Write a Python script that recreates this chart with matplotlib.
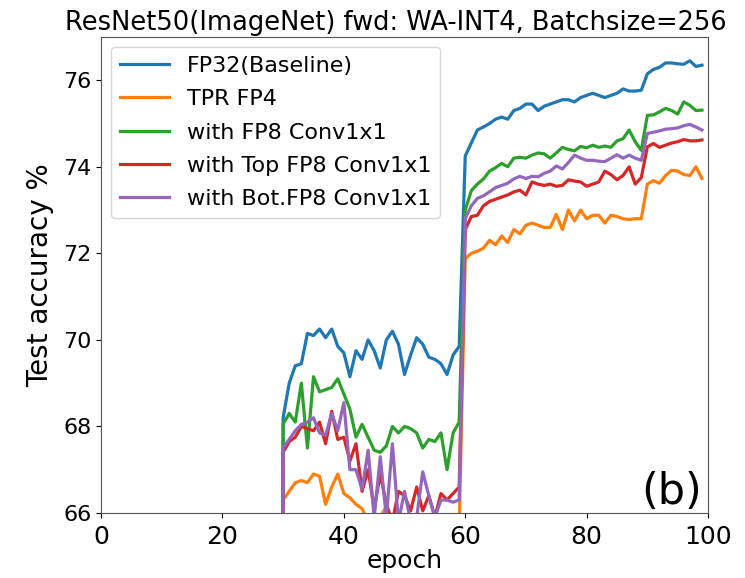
#!/usr/bin/env python3
"""ResNet50 (ImageNet) test accuracy vs. epoch for WA-INT4 forward
quantization variants, batch size 256. Writes out.png."""

import numpy as np
import matplotlib.pyplot as plt
from matplotlib import font_manager

# accuracy was not logged before epoch 30, the epoch-29 entry is plotted as 0
epochs = np.arange(29, 100)

fp32_baseline = [
    0.0,
    68.2, 69.0, 69.4, 69.45, 70.15, 70.1, 70.25, 70.05, 70.25, 69.85,
    69.7, 69.15, 69.75, 69.55, 70.0, 69.75, 69.35, 70.0, 70.2, 69.9,
    69.2, 69.65, 70.05, 69.9, 69.6, 69.55, 69.45, 69.2, 69.65, 69.85,
    74.25, 74.55, 74.85, 74.92, 75.0, 75.1, 75.15, 75.1, 75.3, 75.35,
    75.45, 75.45, 75.3, 75.4, 75.45, 75.5, 75.55, 75.55, 75.5, 75.6,
    75.65, 75.7, 75.65, 75.6, 75.65, 75.7, 75.8, 75.75, 75.75, 75.77,
    76.15, 76.25, 76.3, 76.4, 76.4, 76.38, 76.37, 76.45, 76.32, 76.35,
]

tpr_fp4 = [
    0.0,
    66.3, 66.5, 66.7, 66.75, 66.7, 66.9, 66.85, 66.2, 66.6, 66.9,
    66.45, 66.35, 66.2, 66.1, 65.8, 65.6, 65.9, 66.15, 65.8, 65.5,
    65.4, 65.5, 65.3, 65.5, 65.4, 65.6, 65.5, 65.4, 65.5, 65.6,
    71.88, 72.0, 72.05, 72.12, 72.3, 72.2, 72.4, 72.25, 72.55, 72.45,
    72.65, 72.7, 72.65, 72.6, 72.6, 72.9, 72.55, 73.0, 72.75, 73.0,
    72.8, 72.88, 72.88, 72.7, 72.88, 72.85, 72.8, 72.78, 72.8, 72.8,
    73.6, 73.68, 73.62, 73.8, 73.92, 73.9, 73.82, 73.8, 74.0, 73.73,
]

fp8_conv1x1 = [
    0.0,
    68.05, 68.3, 68.1, 69.0, 67.5, 69.15, 68.8, 68.85, 68.9, 69.1,
    68.75, 68.4, 67.75, 68.05, 67.75, 67.45, 67.4, 67.55, 68.0, 67.85,
    68.0, 67.95, 67.85, 67.5, 67.7, 67.65, 67.85, 67.0, 67.85, 68.1,
    73.0, 73.45, 73.6, 73.72, 73.9, 73.98, 74.08, 74.0, 74.2, 74.22,
    74.2, 74.27, 74.32, 74.3, 74.2, 74.32, 74.45, 74.4, 74.37, 74.47,
    74.44, 74.5, 74.45, 74.48, 74.45, 74.6, 74.65, 74.85, 74.58, 74.38,
    75.19, 75.2, 75.27, 75.35, 75.3, 75.22, 75.5, 75.42, 75.3, 75.31,
]

top_fp8_conv1x1 = [
    0.0,
    67.4, 67.65, 67.75, 68.0, 67.95, 67.9, 68.1, 67.6, 68.35, 67.7,
    67.75, 67.2, 67.6, 66.5, 67.0, 66.1, 66.9, 66.2, 65.8, 66.5,
    66.4, 66.05, 66.6, 66.05, 66.4, 65.9, 66.45, 66.3, 66.45, 66.6,
    72.55, 72.85, 72.88, 73.1, 73.2, 73.25, 73.3, 73.35, 73.42, 73.46,
    73.35, 73.65, 73.6, 73.57, 73.6, 73.55, 73.57, 73.7, 73.67, 73.65,
    73.55, 73.6, 73.65, 73.9, 73.82, 73.7, 73.8, 74.0, 73.6, 73.75,
    74.46, 74.54, 74.45, 74.5, 74.55, 74.58, 74.63, 74.6, 74.6, 74.62,
]

bot_fp8_conv1x1 = [
    0.0,
    67.5, 67.7, 67.9, 68.05, 68.1, 68.2, 67.85, 67.8, 68.3, 67.9,
    68.55, 67.0, 67.0, 66.55, 67.45, 65.9, 67.3, 65.9, 67.6, 65.8,
    66.5, 65.8, 65.9, 66.95, 66.4, 65.9, 66.3, 66.3, 66.25, 66.3,
    72.8, 73.1, 73.27, 73.33, 73.42, 73.52, 73.57, 73.62, 73.72, 73.78,
    73.73, 73.78, 73.77, 73.85, 73.9, 74.02, 73.95, 74.1, 74.27, 74.2,
    74.15, 74.15, 74.13, 74.12, 74.2, 74.28, 74.2, 74.27, 74.2, 74.15,
    74.77, 74.8, 74.83, 74.87, 74.88, 74.9, 74.95, 74.98, 74.92, 74.85,
]

series = [
    ("FP32(Baseline)", fp32_baseline, "tab:blue"),
    ("TPR FP4", tpr_fp4, "tab:orange"),
    ("with FP8 Conv1x1", fp8_conv1x1, "tab:green"),
    ("with Top FP8 Conv1x1", top_fp8_conv1x1, "tab:red"),
    ("with Bot.FP8 Conv1x1", bot_fp8_conv1x1, "tab:purple"),
]


def narrow_family():
    # the panel letter in the paper is set in a condensed face
    names = {f.name for f in font_manager.fontManager.ttflist}
    for name in ("DejaVu Sans Condensed", "Liberation Sans Narrow"):
        if name in names:
            return name
    return "DejaVu Sans"


def main():
    fig = plt.figure(figsize=(7.45, 5.78), dpi=100)
    ax = fig.add_axes([0.1356, 0.1125, 0.8148, 0.8235])

    for label, values, color in series:
        ax.plot(epochs, values, color=color, linewidth=2.3, label=label)

    ax.set_xlim(0, 100)
    ax.set_ylim(66, 77)
    ax.set_xticks([0, 20, 40, 60, 80, 100])
    ax.set_yticks([66, 68, 70, 72, 74, 76])
    ax.tick_params(axis="x", labelsize=18, pad=5)
    ax.tick_params(axis="y", labelsize=16)
    ax.set_xlabel("epoch", fontsize=18, labelpad=0)
    ax.set_ylabel("Test accuracy %", fontsize=20, labelpad=6)
    ax.set_title("ResNet50(ImageNet) fwd: WA-INT4, Batchsize=256",
                 fontsize=18.5, pad=5, x=0.485)
    for spine in ax.spines.values():
        spine.set_color("#555555")

    ax.legend(loc="upper left", fontsize=16, handlelength=2.2,
              handletextpad=0.8, borderaxespad=0.45, labelspacing=0.6)

    ax.text(0.99, 0.0, "(b)", transform=ax.transAxes, fontsize=31,
            family=narrow_family(), ha="right", va="bottom")

    fig.savefig("out.png", dpi=100)
    plt.close(fig)


if __name__ == "__main__":
    main()
